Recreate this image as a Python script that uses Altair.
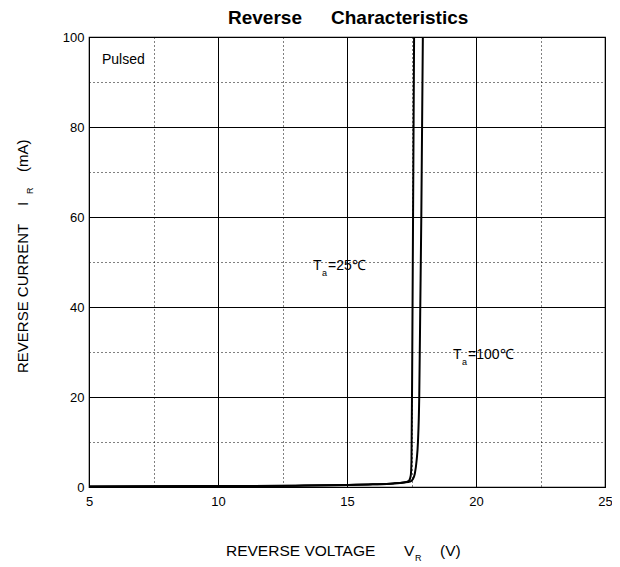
import altair as alt
import pandas as pd

# Curve data
x_25 = [5, 10, 13, 15, 16, 16.8, 17.2, 17.4, 17.47, 17.5, 17.53, 17.56, 17.58, 17.6]
y_25 = [0.1, 0.2, 0.3, 0.45, 0.6, 0.8, 1.0, 1.4, 2.5, 6, 30, 60, 80, 100]
x_100 = [5, 10, 13, 15, 16, 16.8, 17.2, 17.45, 17.55, 17.63, 17.7, 17.75, 17.8, 17.84, 17.88, 17.91, 17.94]
y_100 = [0.1, 0.2, 0.3, 0.45, 0.6, 0.8, 1.0, 1.2, 1.7, 3, 6, 10, 20, 40, 60, 80, 100]

x_ticks = [5, 7.5, 10, 12.5, 15, 17.5, 20, 22.5, 25]
y_ticks = [0, 10, 20, 30, 40, 50, 60, 70, 80, 90, 100]

title_parts = ["Reverse", "Characteristics"]
x_title_parts = ["REVERSE VOLTAGE", "V", "R", "(V)"]
y_title_parts = ["REVERSE CURRENT", "I", "R", "(mA)"]
pulsed_text = "Pulsed"
label_25 = ["T", "a", "=25℃"]
label_100 = ["T", "a", "=100℃"]

FONT = "Liberation Sans"
W, H = 516, 450

df = pd.DataFrame({
    "v": x_25 + x_100,
    "i": y_25 + y_100,
    "s": ["25"] * len(x_25) + ["100"] * len(x_100),
    "o": list(range(len(x_25))) + list(range(len(x_100))),
})

xs = alt.Scale(domain=[5, 25], nice=False, zero=False)
ys = alt.Scale(domain=[0, 100], nice=False)

lines = alt.Chart(df).mark_line(color="black", strokeWidth=2, clip=True, interpolate="monotone").encode(
    x=alt.X("v:Q", scale=xs, axis=alt.Axis(
        values=x_ticks,
        labelExpr="datum.value % 5 === 0 ? datum.label : ''",
        grid=True, gridColor="black", gridOpacity=1, gridWidth=1,
        gridDash=alt.condition("datum.value % 5 === 0", alt.value([]), alt.value([1, 3])),
        ticks=False, domain=False, title=None,
        labelFont=FONT, labelFontSize=13, labelColor="black", labelPadding=8,
        labelFlush=False, labelOverlap=False)),
    y=alt.Y("i:Q", scale=ys, axis=alt.Axis(
        values=y_ticks,
        labelExpr="datum.value % 20 === 0 ? datum.label : ''",
        grid=True, gridColor="black", gridOpacity=1, gridWidth=1,
        gridDash=alt.condition("datum.value % 20 === 0", alt.value([]), alt.value([1, 3])),
        ticks=False, domain=False, title=None,
        labelFont=FONT, labelFontSize=13, labelColor="black", labelPadding=5,
        labelFlush=False, labelOverlap=False)),
    detail="s:N",
    order="o:Q",
)


def txt(t, px, py, size=13, bold=False, angle=0, align="center"):
    kw = dict(font=FONT, fontSize=size, color="black", align=align, baseline="middle",
              fontWeight="bold" if bold else "normal")
    if angle:
        kw["angle"] = angle
    return alt.Chart(pd.DataFrame({"t": [t]})).mark_text(**kw).encode(
        x=alt.value(px), y=alt.value(py), text="t:N")

# page coords -> plot coords: (px-89, py-37)
ox, oy = 89, 37
texts = [
    txt(title_parts[0], 228 - ox, 18 - oy, size=19, bold=True, align="left"),
    txt(title_parts[1], 331 - ox, 18 - oy, size=19, bold=True, align="left"),
    txt(pulsed_text, 102 - ox, 60 - oy, size=14, align="left"),
    # x title
    txt(x_title_parts[0], 226 - ox, 551 - oy, size=15.5, align="left"),
    txt(x_title_parts[1], 404 - ox, 551 - oy, size=15.5, align="left"),
    txt(x_title_parts[2], 415 - ox, 558 - oy, size=9, align="left"),
    txt(x_title_parts[3], 440 - ox, 551 - oy, size=15.5, align="left"),
    # y title
    txt(y_title_parts[0], 23 - ox, 373 - oy, size=15, angle=270, align="left"),
    txt(y_title_parts[1], 23 - ox, 206 - oy, size=15, angle=270, align="left"),
    txt(y_title_parts[2], 30 - ox, 194 - oy, size=9, angle=270, align="left"),
    txt(y_title_parts[3], 23 - ox, 172 - oy, size=15, angle=270, align="left"),
    # annotations
    txt(label_25[0], 313 - ox, 266 - oy, size=14, align="left"),
    txt(label_25[1], 322 - ox, 273 - oy, size=9, align="left"),
    txt(label_25[2], 328 - ox, 266 - oy, size=14, align="left"),
    txt(label_100[0], 453 - ox, 355 - oy, size=14, align="left"),
    txt(label_100[1], 462 - ox, 362 - oy, size=9, align="left"),
    txt(label_100[2], 468 - ox, 355 - oy, size=14, align="left"),
]

chart = alt.layer(lines, *texts).properties(
    width=W, height=H,
    autosize="none",
    padding={"left": 81, "top": 29, "right": 7, "bottom": 76},
).configure_view(stroke="black", strokeWidth=1.2)

chart.save("out.html", embed_options={"renderer": "svg", "actions": False})
